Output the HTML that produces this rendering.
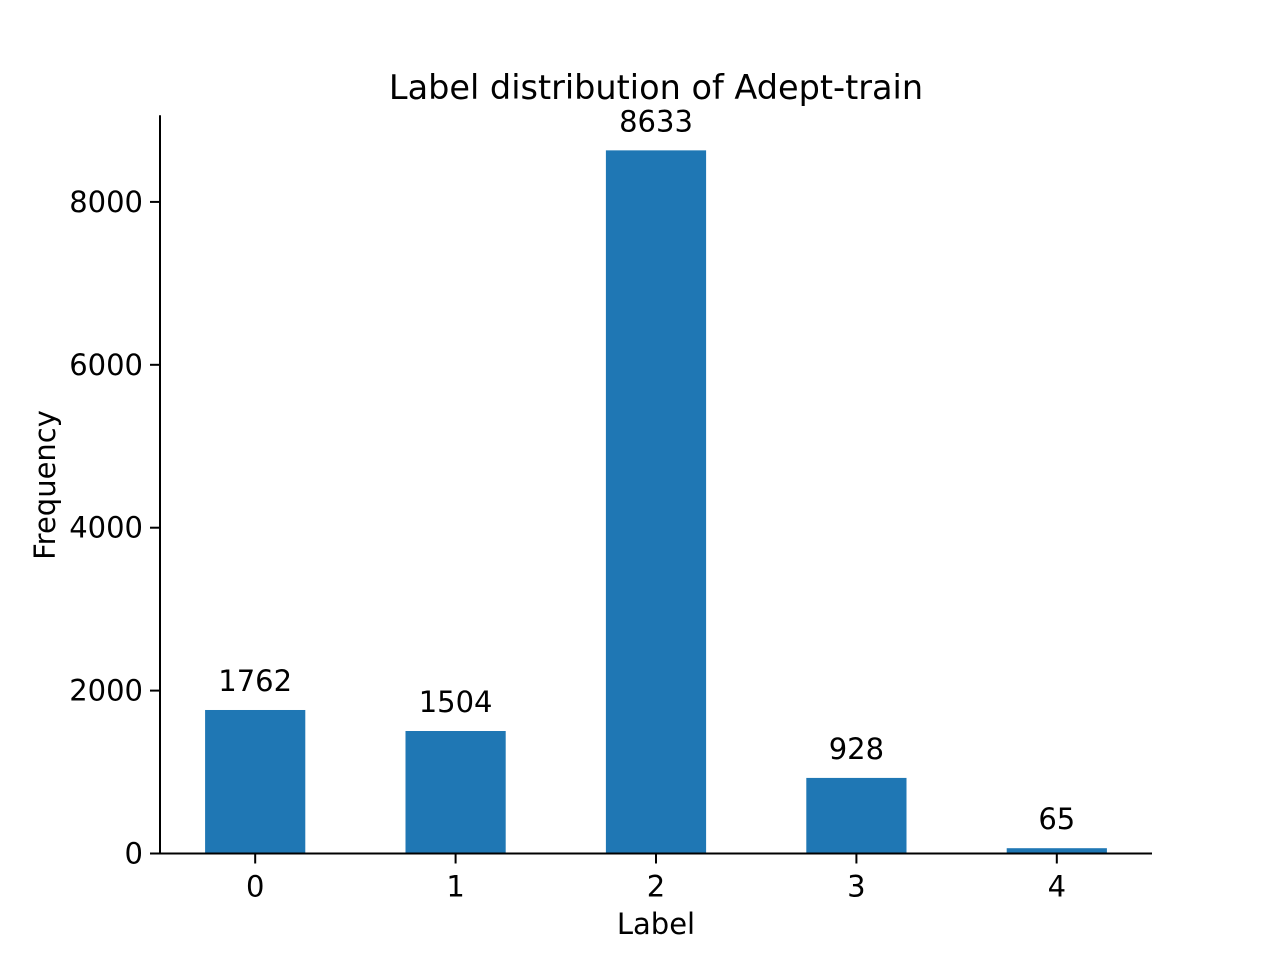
<!DOCTYPE html>
<html><head><meta charset="utf-8"><style>body{margin:0;background:#fff}svg{display:block}text{font-family:"DejaVu Sans","Liberation Sans",sans-serif;font-size:29px;fill:#000}</style></head>
<body>
<svg id="chart" width="1280" height="960" xmlns="http://www.w3.org/2000/svg"></svg>
<script>
const categories = ["0","1","2","3","4"];
const values = [1762, 1504, 8633, 928, 65];
const yTicks = [0, 2000, 4000, 6000, 8000];
const svg = document.getElementById('chart');
const NS = 'http://www.w3.org/2000/svg';
const L=160,R=1152,T=115.2,B=853.5;
const yMax = 9064.65;
const xMin=-0.475, xMax=4.475;
const x = v => L + (v - xMin) / (xMax - xMin) * (R - L);
const y = v => B - v / yMax * (B - T);
function mk(tag, attrs, txt){const e=document.createElementNS(NS,tag);for(const k in attrs)e.setAttribute(k,attrs[k]);if(txt!==undefined)e.textContent=txt;svg.appendChild(e);return e;}
const bw = (x(0.5)-x(0));
values.forEach((v,i)=>{
  const r = mk('rect',{x:x(i)-bw/2,y:y(v),width:bw,height:B-y(v),fill:'#1f77b4'});
  
  
  const t = mk('text',{x:x(i),y:y(v)-19,'text-anchor':'middle'},String(v));
  
  
  const tk = mk('line',{x1:x(i),x2:x(i),y1:B,y2:B+10,stroke:'#000','stroke-width':2});
  
  
  const tl = mk('text',{x:x(i),y:B+43,'text-anchor':'middle'},categories[i]);
  
  
});
yTicks.forEach(v=>{
  const tk = mk('line',{x1:L-10,x2:L,y1:y(v),y2:y(v),stroke:'#000','stroke-width':2});
  
  
  const tl = mk('text',{x:L-17,y:y(v)+10,'text-anchor':'end'},String(v));
  
  
});
const ya = mk('line',{x1:L,x2:L,y1:T,y2:B+1,stroke:'#000','stroke-width':2});


const xa = mk('line',{x1:L-1,x2:R,y1:B,y2:B,stroke:'#000','stroke-width':2});


const title = mk('text',{x:656,y:99,'text-anchor':'middle',style:'font-size:33.5px'},'Label distribution of Adept-train');


const xt = mk('text',{x:656,y:934,'text-anchor':'middle'},'Label');


const yt = mk('text',{x:0,y:0,'text-anchor':'middle',transform:'translate(55,485) rotate(-90)'},'Frequency');


</script>
</body></html>
